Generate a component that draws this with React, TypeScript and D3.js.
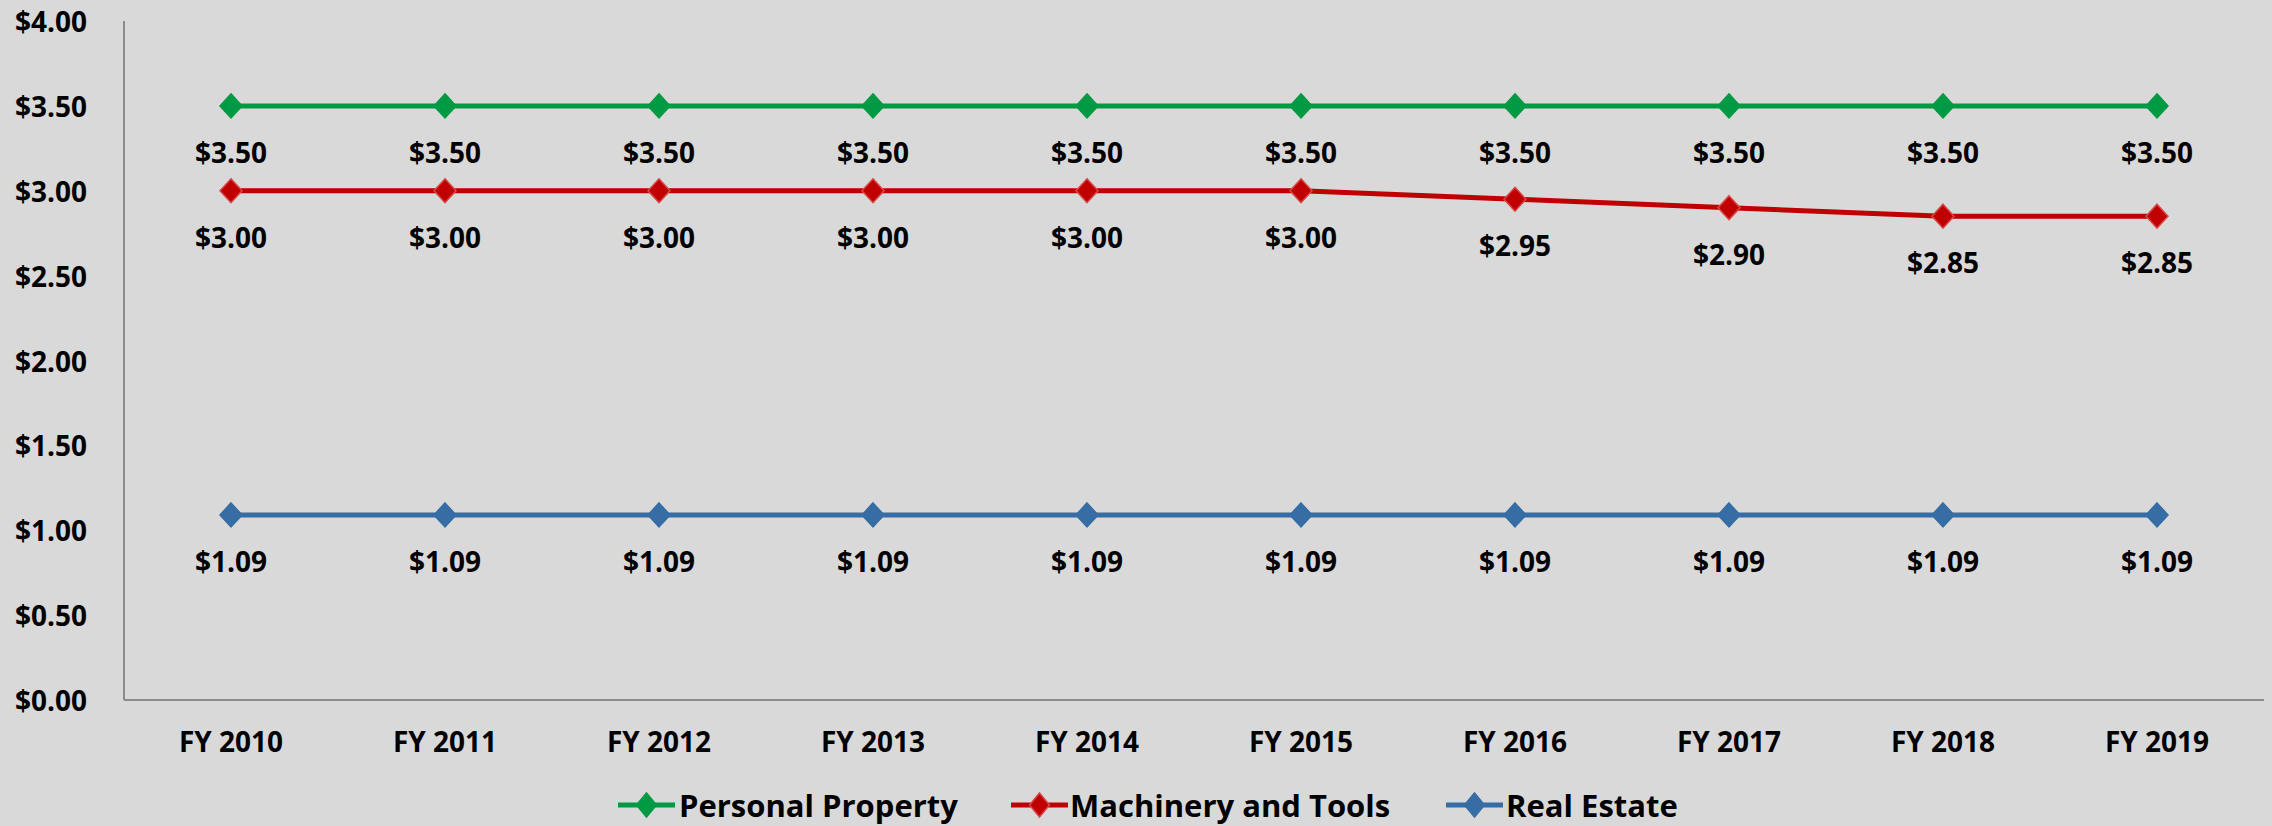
import React from "react";
import * as d3 from "d3";

const years = ["FY 2010", "FY 2011", "FY 2012", "FY 2013", "FY 2014", "FY 2015", "FY 2016", "FY 2017", "FY 2018", "FY 2019"];
const personalProperty = [3.5, 3.5, 3.5, 3.5, 3.5, 3.5, 3.5, 3.5, 3.5, 3.5];
const machineryTools = [3.0, 3.0, 3.0, 3.0, 3.0, 3.0, 2.95, 2.9, 2.85, 2.85];
const realEstate = [1.09, 1.09, 1.09, 1.09, 1.09, 1.09, 1.09, 1.09, 1.09, 1.09];
const yTicks = [0, 0.5, 1, 1.5, 2, 2.5, 3, 3.5, 4];
const seriesNames = ["Personal Property", "Machinery and Tools", "Real Estate"];
const seriesColors = ["#009A44", "#C00000", "#376DA5"];
const markerStrokes = ["#009A44", "#D84848", "#376DA5"];

const W = 2272;
const H = 826;
const FONT = "'Open Sans', 'Noto Sans', sans-serif";

export default function App() {
  const x = d3.scaleBand<string>().domain(years).range([124, 2264]);
  const y = d3.scaleLinear().domain([0, 4]).range([700, 21]);
  const cx = (i: number) => (x(years[i]) as number) + x.bandwidth() / 2;
  const fmt = (v: number) => "$" + d3.format(".2f")(v);
  const line = d3
    .line<number>()
    .x((_, i) => cx(i))
    .y((d) => y(d));
  const data = [personalProperty, machineryTools, realEstate];
  const diamond = (px: number, py: number, hw: number, hh: number) =>
    `M${px},${py - hh}L${px + hw},${py}L${px},${py + hh}L${px - hw},${py}Z`;

  const legendItems = [
    { lx: 618, tx: 679 },
    { lx: 1011, tx: 1070 },
    { lx: 1446, tx: 1506 },
  ];

  return (
    <svg
      width={W}
      height={H}
      style={{ position: "absolute", left: 0, top: 0, background: "#D9D9D9" }}
      fontFamily={FONT}
      fontWeight="bold"
    >
      <rect x={0} y={0} width={W} height={H} fill="#D9D9D9" />
      {/* axes */}
      <line x1={124} x2={124} y1={21} y2={700} stroke="#8C8C8C" strokeWidth={2} />
      <line x1={124} x2={2264} y1={700} y2={700} stroke="#8C8C8C" strokeWidth={2} />
      {yTicks.map((t) => (
        <text key={t} x={87} y={y(t)} textAnchor="end" dominantBaseline="central" fontSize={28} fill="#000">
          {fmt(t)}
        </text>
      ))}
      {years.map((yr, i) => (
        <text key={yr} x={cx(i)} y={741} textAnchor="middle" dominantBaseline="central" fontSize={28} fill="#000">
          {yr}
        </text>
      ))}
      {data.map((vals, s) => (
        <g key={s}>
          <path d={line(vals) as string} fill="none" stroke={seriesColors[s]} strokeWidth={5} />
          {vals.map((v, i) => (
            <path
              key={i}
              d={diamond(cx(i), y(v), 11, 12)}
              fill={seriesColors[s]}
              stroke={markerStrokes[s]}
              strokeWidth={1.5}
            />
          ))}
          {vals.map((v, i) => (
            <text
              key={"l" + i}
              x={cx(i)}
              y={y(v) + 46}
              textAnchor="middle"
              dominantBaseline="central"
              fontSize={28}
              fill="#000"
            >
              {fmt(v)}
            </text>
          ))}
        </g>
      ))}
      {/* legend */}
      {legendItems.map((it, s) => (
        <g key={s}>
          <line x1={it.lx} x2={it.lx + 57} y1={805} y2={805} stroke={seriesColors[s]} strokeWidth={5} />
          <path d={diamond(it.lx + 28.5, 805, 10, 12)} fill={seriesColors[s]} stroke={markerStrokes[s]} strokeWidth={1.5} />
          <text x={it.tx} y={805} dominantBaseline="central" fontSize={31} fill="#000">
            {seriesNames[s]}
          </text>
        </g>
      ))}
    </svg>
  );
}
